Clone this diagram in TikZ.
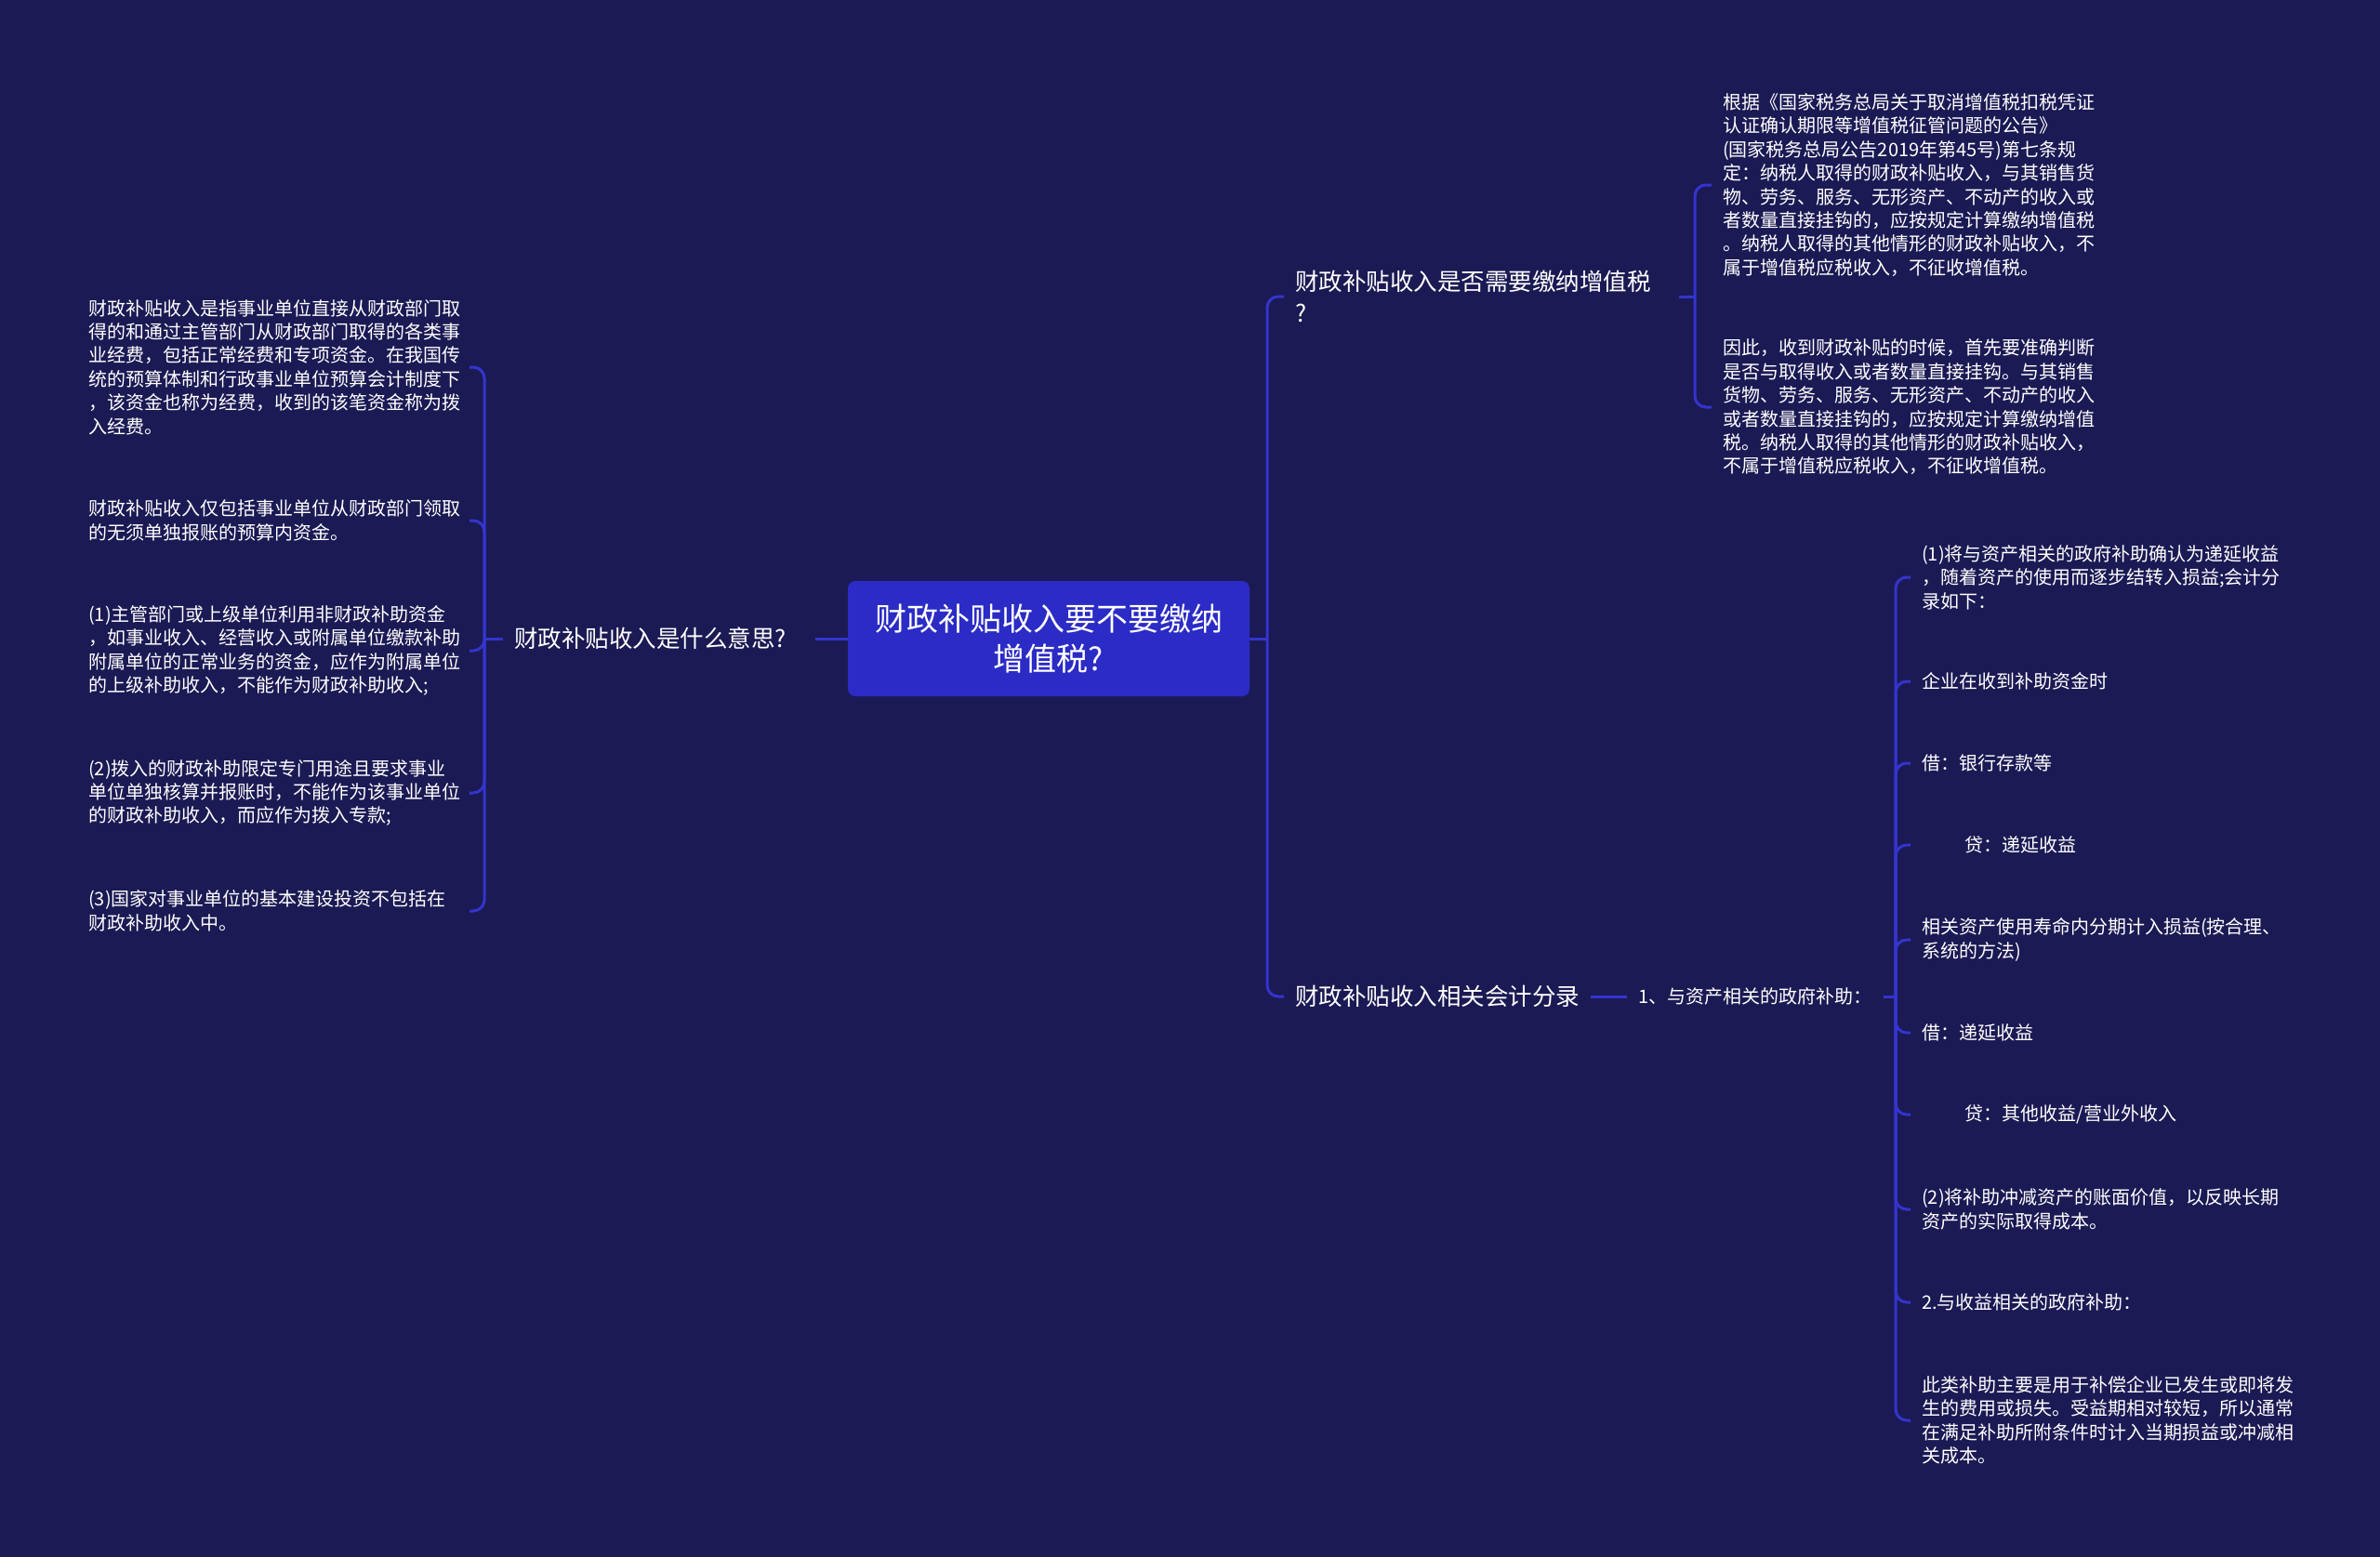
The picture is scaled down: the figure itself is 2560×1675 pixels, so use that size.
\documentclass[tikz,border=0pt]{standalone}
\usepackage{fontspec}
\setmainfont{Noto Sans CJK SC}
\definecolor{bg}{RGB}{27,26,84}
\definecolor{rootc}{RGB}{43,43,198}
\definecolor{linec}{RGB}{52,52,206}
\begin{document}
\begin{tikzpicture}[x=1pt,y=-1pt,
  leafL/.style={anchor=west, align=left, inner xsep=0pt, inner ysep=0pt, text=white,
     font=\fontsize{20}{25.4}\selectfont},
  leafR/.style={anchor=west, align=left, inner xsep=12pt, inner ysep=0pt, text=white,
     font=\fontsize{20}{25.4}\selectfont},
  branch/.style={anchor=west, align=left, inner xsep=12pt, inner ysep=0pt, text=white,
     font=\fontsize{25.5}{34}\selectfont},
  rootbox/.style={fill=rootc, rounded corners=8pt, minimum width=432pt, minimum height=124pt,
     align=center, text=white, inner sep=0pt, font=\fontsize{34}{43}\selectfont},
  conn/.style={draw=linec, line width=3pt, rounded corners=12pt}]
\useasboundingbox[fill=bg] (0,0) rectangle (2560,1675);

% root
\node[rootbox] (root) at (1128,687) {财政补贴收入要不要缴纳\\增值税?};

% junction coordinates
\coordinate (jl) at (521,687);
\coordinate (tl) at (505,0);
\coordinate (jr) at (1363,687);
\coordinate (j1) at (1823,319);
\coordinate (j2) at (2039,1072);

% left branch
\node[branch] (lbl) at (541,687) {财政补贴收入是什么意思?};

\node[leafL] (L1) at (95,395) {财政补贴收入是指事业单位直接从财政部门取\\得的和通过主管部门从财政部门取得的各类事\\业经费，包括正常经费和专项资金。在我国传\\统的预算体制和行政事业单位预算会计制度下\\，该资金也称为经费，收到的该笔资金称为拨\\入经费。};
\node[leafL] (L2) at (95,560) {财政补贴收入仅包括事业单位从财政部门领取\\的无须单独报账的预算内资金。};
\node[leafL] (L3) at (95,700) {(1)主管部门或上级单位利用非财政补助资金\\，如事业收入、经营收入或附属单位缴款补助\\附属单位的正常业务的资金，应作为附属单位\\的上级补助收入，不能作为财政补助收入;};
\node[leafL] (L4) at (95,853) {(2)拨入的财政补助限定专门用途且要求事业\\单位单独核算并报账时，不能作为该事业单位\\的财政补助收入，而应作为拨入专款;};
\node[leafL] (L5) at (95,980) {(3)国家对事业单位的基本建设投资不包括在\\财政补助收入中。};

\draw[conn] (root.west) -- ([xshift=19pt]lbl.east);
\draw[conn] (lbl.west) -- (jl);
\foreach \n in {L1,L2,L3,L4,L5}{
  \draw[conn] (jl) |- (\n.west -| tl);
}

% right branches
\node[branch] (R1) at (1381,319) {财政补贴收入是否需要缴纳增值税\\?};
\node[branch] (R2) at (1381,1072) {财政补贴收入相关会计分录};

\draw[conn] (root.east) -- (jr);
\draw[conn] (jr) |- (R1.west);
\draw[conn] (jr) |- (R2.west);

% R1 children
\node[leafR] (R1a) at (1841,199) {根据《国家税务总局关于取消增值税扣税凭证\\认证确认期限等增值税征管问题的公告》\\(国家税务总局公告2019年第45号)第七条规\\定：纳税人取得的财政补贴收入，与其销售货\\物、劳务、服务、无形资产、不动产的收入或\\者数量直接挂钩的，应按规定计算缴纳增值税\\。纳税人取得的其他情形的财政补贴收入，不\\属于增值税应税收入，不征收增值税。};
\node[leafR] (R1b) at (1841,438) {因此，收到财政补贴的时候，首先要准确判断\\是否与取得收入或者数量直接挂钩。与其销售\\货物、劳务、服务、无形资产、不动产的收入\\或者数量直接挂钩的，应按规定计算缴纳增值\\税。纳税人取得的其他情形的财政补贴收入，\\不属于增值税应税收入，不征收增值税。};

\draw[conn] ([xshift=18pt]R1.east) -- (j1);
\draw[conn] (j1) |- (R1a.west);
\draw[conn] (j1) |- (R1b.west);

% R2 child
\node[leafR] (n1) at (1750,1072) {1、与资产相关的政府补助：};
\draw[conn] (R2.east) -- (n1.west);
\draw[conn] (n1.east) -- (j2);

\node[leafR] (c1) at (2055,621) {(1)将与资产相关的政府补助确认为递延收益\\，随着资产的使用而逐步结转入损益;会计分\\录如下：};
\node[leafR] (c2) at (2055,733) {企业在收到补助资金时};
\node[leafR] (c3) at (2055,821) {借：银行存款等};
\node[leafR] (c4) at (2055,909) {\hspace*{46pt}贷：递延收益};
\node[leafR] (c5) at (2055,1011) {相关资产使用寿命内分期计入损益(按合理、\\系统的方法)};
\node[leafR] (c6) at (2055,1111) {借：递延收益};
\node[leafR] (c7) at (2055,1199) {\hspace*{46pt}贷：其他收益/营业外收入};
\node[leafR] (c8) at (2055,1301) {(2)将补助冲减资产的账面价值，以反映长期\\资产的实际取得成本。};
\node[leafR] (c9) at (2055,1401) {2.与收益相关的政府补助：};
\node[leafR] (c10) at (2055,1528) {此类补助主要是用于补偿企业已发生或即将发\\生的费用或损失。受益期相对较短，所以通常\\在满足补助所附条件时计入当期损益或冲减相\\关成本。};

\foreach \n in {c1,c2,c3,c4,c5,c6,c7,c8,c9,c10}{
  \draw[conn] (j2) |- (\n.west);
}
\end{tikzpicture}
\end{document}
